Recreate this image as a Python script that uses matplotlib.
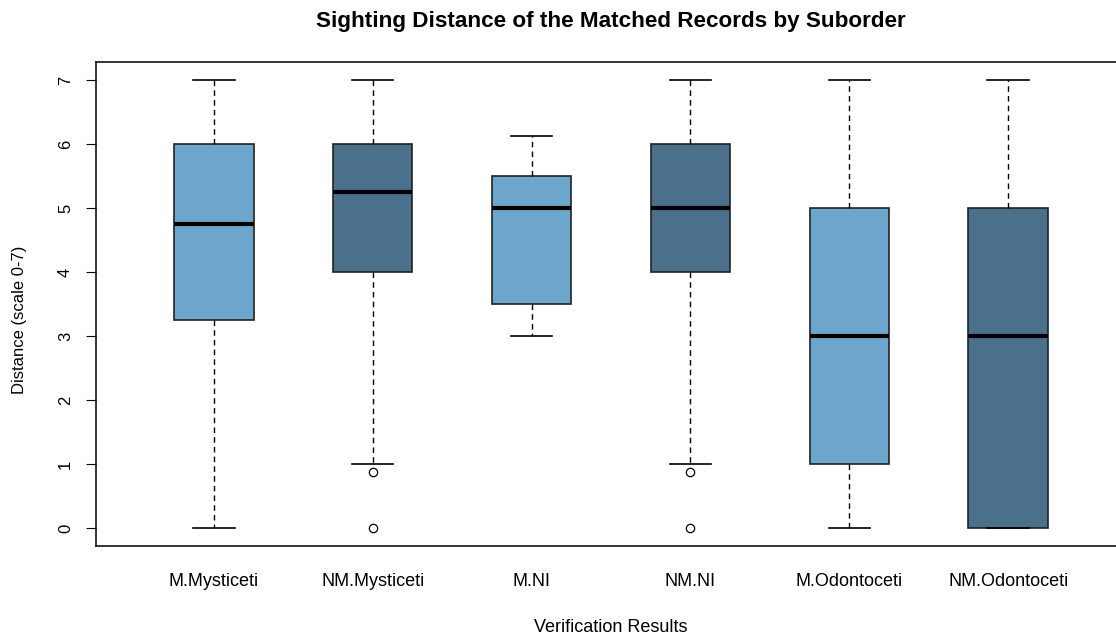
import matplotlib
matplotlib.use("Agg")
import matplotlib.pyplot as plt

plt.rcParams['font.family'] = ['Liberation Sans', 'DejaVu Sans']

# five-number summaries per group, read as whisker low, Q1, median, Q3, whisker high
groups = ["M.Mysticeti", "NM.Mysticeti", "M.NI", "NM.NI", "M.Odontoceti", "NM.Odontoceti"]
whislo = [0, 1, 3, 1, 0, 0]
q1 = [3.25, 4, 3.5, 4, 1, 0]
med = [4.75, 5.25, 5, 5, 3, 3]
q3 = [6, 6, 5.5, 6, 5, 5]
whishi = [7, 7, 6.125, 7, 7, 7]
fliers = [[], [0.875, 0], [], [0.875, 0], [], []]
colors = ["#6CA6CD", "#4A708B", "#6CA6CD", "#4A708B", "#6CA6CD", "#4A708B"]

stats = []
for i in range(len(groups)):
    stats.append(dict(label=groups[i], whislo=whislo[i], q1=q1[i], med=med[i],
                      q3=q3[i], whishi=whishi[i], fliers=fliers[i]))

fig = plt.figure(figsize=(11.16, 6.39), dpi=100)
ax = fig.add_axes([96 / 1116, 1 - 546 / 639, 1030 / 1116, 484 / 639])

bp = ax.bxp(stats, positions=range(1, 7), widths=0.5, patch_artist=True,
            boxprops=dict(edgecolor="#222222", linewidth=1.2),
            medianprops=dict(color="black", linewidth=3),
            whiskerprops=dict(color="black", linestyle=(0, (4, 3)), linewidth=1),
            capprops=dict(color="black", linewidth=1.2),
            capwidths=0.26,
            flierprops=dict(marker="o", markersize=6, markerfacecolor="none",
                            markeredgecolor="black", markeredgewidth=0.9))
for patch, c in zip(bp["boxes"], colors):
    patch.set_facecolor(c)

ax.set_xlim(0.258, 6.742)
ax.set_ylim(-0.28, 7.28)
ax.set_yticks(range(0, 8))
ax.tick_params(axis="y", labelrotation=90, length=7, labelsize=12, pad=9.5)
ax.tick_params(axis="x", length=0, labelsize=13, pad=19.5)
for lab in ax.get_yticklabels():
    lab.set_va("center")
for s in ax.spines.values():
    s.set_linewidth(1.1)

ax.set_title("Sighting Distance of the Matched Records by Suborder",
             fontsize=16.2, fontweight="bold", pad=25)
ax.set_xlabel("Verification Results", fontsize=13, labelpad=21)
ax.set_ylabel("Distance (scale 0-7)", fontsize=12)
ax.yaxis.set_label_coords(-0.067, 0.467)

fig.savefig("out.png", dpi=100)
